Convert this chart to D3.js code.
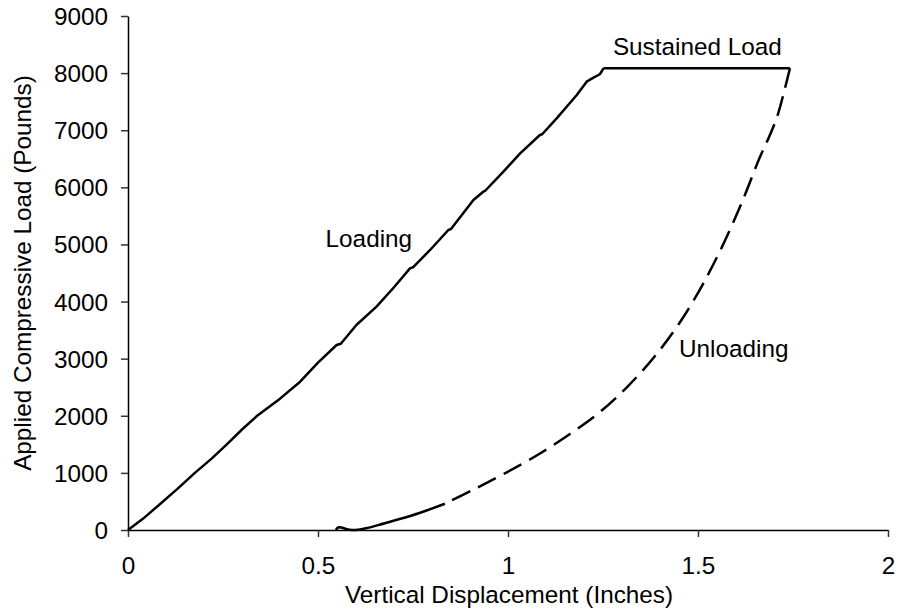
<!DOCTYPE html>
<html>
<head>
<meta charset="utf-8">
<script src="https://cdn.jsdelivr.net/npm/d3@7"></script>
<style>
  html, body { margin: 0; padding: 0; background: #fff; }
  svg text { font-family: "Liberation Sans", Arial, sans-serif; fill: #000; }
</style>
</head>
<body>
<svg id="chart" width="899" height="615"></svg>
<script>
// ---- Data ----
const xTicks = [0, 0.5, 1, 1.5, 2];
const xTickLabels = ["0", "0.5", "1", "1.5", "2"];
const yTicks = [0, 1000, 2000, 3000, 4000, 5000, 6000, 7000, 8000, 9000];
const yTickLabels = ["0", "1000", "2000", "3000", "4000", "5000", "6000", "7000", "8000", "9000"];

const loadingX = [0, 0.04, 0.08, 0.13, 0.176, 0.22, 0.26, 0.30, 0.34, 0.40, 0.453, 0.50, 0.549, 0.56, 0.601, 0.654, 0.70, 0.742, 0.75, 0.795, 0.843, 0.85, 0.909, 0.935, 0.94, 0.988, 1.032, 1.084, 1.09, 1.128, 1.181, 1.207, 1.225, 1.238, 1.243, 1.251];
const loadingY = [0, 200, 430, 720, 1000, 1250, 1500, 1760, 2000, 2300, 2597, 2930, 3239, 3260, 3590, 3910, 4250, 4581, 4600, 4903, 5253, 5270, 5778, 5924, 5940, 6274, 6596, 6917, 6930, 7208, 7617, 7850, 7920, 7967, 7990, 8084];

const sustainedX = [1.251, 1.742];
const sustainedY = [8084, 8084];

const unloadingX = [1.742, 1.729, 1.708, 1.687, 1.663, 1.618, 1.568, 1.513, 1.453, 1.387, 1.316, 1.242, 1.163, 1.082, 0.997, 0.913, 0.834, 0.763, 0.703, 0.658, 0.626, 0.605, 0.589, 0.574, 0.561, 0.553, 0.547];
const unloadingY = [8084, 7739, 7232, 6881, 6531, 5778, 5025, 4307, 3642, 3047, 2521, 2066, 1681, 1331, 1010, 720, 460, 290, 170, 85, 30, 5, 0, 18, 44, 44, 0];

const labels = [
  { text: "Loading", x: 0.52, y: 4960 },
  { text: "Sustained Load", x: 1.276, y: 8320 },
  { text: "Unloading", x: 1.45, y: 3030 }
];

// ---- Layout ----
const FS = "24.3px";
const svg = d3.select("#chart");
const x = d3.scaleLinear().domain([0, 2]).range([128, 888]);
const y = d3.scaleLinear().domain([0, 9000]).range([530, 16]);

// Axes
const xAxis = d3.axisBottom(x).tickValues(xTicks)
  .tickFormat((d, i) => xTickLabels[i]).tickSizeInner(7).tickSizeOuter(0).tickPadding(20);
const yAxis = d3.axisLeft(y).tickValues(yTicks)
  .tickFormat((d, i) => yTickLabels[i]).tickSizeInner(7).tickSizeOuter(0).tickPadding(13);

const gx = svg.append("g").attr("transform", "translate(0,530)").call(xAxis);
const gy = svg.append("g").attr("transform", "translate(128,0)").call(yAxis);
[gx, gy].forEach(g => {
  g.select(".domain").attr("stroke", "#000").attr("stroke-width", 1.5);
  g.selectAll(".tick line").attr("stroke", "#333").attr("stroke-width", 1.5);
  g.selectAll(".tick text").style("font-size", FS).attr("fill", "#000")
    .style("font-family", '"Liberation Sans", Arial, sans-serif');
});
gx.selectAll(".tick text").attr("dy", "0.71em");
gy.selectAll(".tick text").attr("dy", "0.35em");

// Axis titles
svg.append("text").attr("x", 509).attr("y", 603).attr("text-anchor", "middle")
  .style("font-size", FS).text("Vertical Displacement (Inches)");
svg.append("text").attr("transform", "translate(31,273) rotate(-90)").attr("text-anchor", "middle")
  .style("font-size", FS).text("Applied Compressive Load (Pounds)");

// Lines
const line = d3.line().x(d => x(d[0])).y(d => y(d[1]));
const smooth = d3.line().x(d => x(d[0])).y(d => y(d[1])).curve(d3.curveCatmullRom.alpha(0.5));
const loading = loadingX.map((v, i) => [v, loadingY[i]]);
const sustained = sustainedX.map((v, i) => [v, sustainedY[i]]);
const unloading = unloadingX.map((v, i) => [v, unloadingY[i]]);

svg.append("path").datum(loading).attr("d", line)
  .attr("fill", "none").attr("stroke", "#000").attr("stroke-width", 2.5).attr("stroke-linejoin", "round");
svg.append("path").datum(sustained).attr("d", line)
  .attr("fill", "none").attr("stroke", "#000").attr("stroke-width", 2.5);
// dashed upper part, solid tail near zero
const unloadDashed = unloading.filter(d => d[0] >= 0.834);
const unloadSolid = unloading.filter(d => d[0] <= 0.834);
svg.append("path").datum(unloadDashed).attr("d", smooth)
  .attr("fill", "none").attr("stroke", "#000").attr("stroke-width", 2.5)
  .attr("stroke-dasharray", "20,9");
svg.append("path").datum(unloadSolid).attr("d", smooth)
  .attr("fill", "none").attr("stroke", "#000").attr("stroke-width", 2.5).attr("stroke-linejoin", "round");

// Labels
svg.selectAll("text.lbl").data(labels).enter().append("text").attr("class", "lbl")
  .attr("x", d => x(d.x)).attr("y", d => y(d.y))
  .style("font-size", FS).text(d => d.text);
</script>
</body>
</html>
